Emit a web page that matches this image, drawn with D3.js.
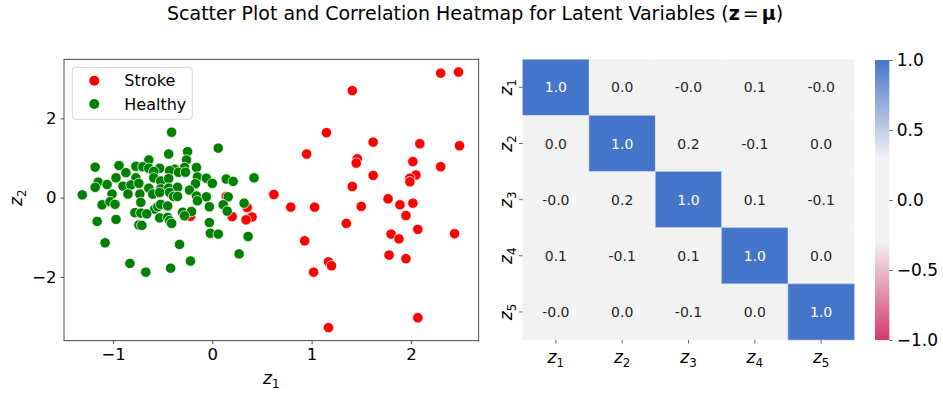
<!DOCTYPE html>
<html>
<head>
<meta charset="utf-8">
<script src="https://cdn.jsdelivr.net/npm/d3@7"></script>
<style>
  body { margin: 0; background: #fff; }
  svg { font-family: "DejaVu Sans", sans-serif; }
</style>
</head>
<body>
<div id="chart"></div>
<script>
// Latent points (z1, z2)
const strokeX = [2.30, 2.48, 1.41, 1.15, 1.62, 2.09, 2.49, 0.95, 1.46, 1.45, 2.02, 2.30, 1.62, 2.05, 1.99,
  1.99, 1.41, 0.62, 1.77, 1.89, 2.02, 0.79, 1.03, 1.50, 1.95, 0.40, 0.35, 1.35, 0.93, 1.80, 1.88, 2.07,
  2.44, 1.78, 1.95, 1.17, 1.20, 1.02, 2.07, 1.17, 0.20, 0.34, 0.14, -0.22];
const strokeY = [3.14, 3.17, 2.70, 1.64, 1.40, 1.36, 1.31, 1.10, 0.98, 0.87, 0.91, 0.78, 0.56, 0.57, 0.49,
  0.40, 0.28, 0.08, -0.03, -0.18, -0.14, -0.24, -0.24, -0.22, -0.45, -0.49, -0.25, -0.65, -1.09, -0.92, -1.04, -0.80,
  -0.91, -1.45, -1.54, -1.62, -1.72, -1.88, -3.03, -3.28, -0.48, -0.56, 0.03, -0.47];

const healthyX = [-0.41, 0.06, -0.25, -0.44, -0.64, -0.26, -1.18, -0.94, -0.77, -0.70, -0.64, -0.53, -0.38, -0.28,
  -0.16, -0.87, -0.59, -0.43, -0.34, -0.27, -0.97, -0.77, -0.59, -0.52, -0.44, -0.15, -0.06, 0.14, 0.21, 0.42,
  -1.15, -1.06, -1.18, -0.90, -0.82, -0.74, -0.64, -0.52, -0.44, -0.35, -0.17, 0.00, -0.23, -1.31, -1.01, -0.85,
  -0.73, -0.60, -0.53, -0.43, -0.39, -0.35, -0.16, -0.06, 0.16, -1.11, -1.03, -0.98, -0.72, -0.58, -0.55, -0.52,
  -0.45, -0.15, -0.03, 0.11, 0.32, -0.78, -0.72, -0.66, -0.30, -0.21, -1.16, -0.97, -0.53, -0.45, -0.43, -0.41,
  -0.74, -0.71, -0.28, -0.03, -0.02, 0.06, -0.33, -1.08, -0.22, -0.83, -0.42, -0.67, 0.27, 0.36, 0.15];
const healthyY = [1.65, 1.25, 1.16, 1.10, 0.95, 0.95, 0.77, 0.81, 0.79, 0.78, 0.74, 0.74, 0.72, 0.76,
  0.76, 0.63, 0.66, 0.68, 0.64, 0.64, 0.50, 0.50, 0.50, 0.42, 0.48, 0.52, 0.49, 0.47, 0.41, 0.50,
  0.39, 0.33, 0.26, 0.29, 0.32, 0.36, 0.24, 0.22, 0.24, 0.26, 0.35, 0.36, 0.19, 0.07, 0.09, 0.09,
  0.09, 0.09, 0.13, 0.13, 0.03, 0.03, 0.04, 0.02, 0.02, -0.18, -0.10, -0.17, -0.12, -0.29, -0.23, -0.17,
  -0.21, -0.08, -0.23, -0.18, -0.14, -0.38, -0.39, -0.41, -0.37, -0.35, -0.60, -0.55, -0.51, -0.50, -0.58, -0.65,
  -0.69, -0.70, -0.46, -0.63, -0.90, -0.92, -1.18, -1.14, -1.60, -1.66, -1.78, -1.88, -1.42, -0.98, -0.34];

const scatterXTicks = [-1, 0, 1, 2];
const scatterYTicks = [-2, 0, 2];

// Correlation matrix
const latentNames = ["1", "2", "3", "4", "5"];
const corrRow1 = [1.0, 0.01, -0.02, 0.08, -0.01];
const corrRow2 = [0.01, 1.0, 0.18, -0.09, 0.02];
const corrRow3 = [-0.02, 0.18, 1.0, 0.07, -0.06];
const corrRow4 = [0.08, -0.09, 0.07, 1.0, 0.01];
const corrRow5 = [-0.01, 0.02, -0.06, 0.01, 1.0];
const corrRows = [corrRow1, corrRow2, corrRow3, corrRow4, corrRow5];
const colorbarTicks = [1.0, 0.5, 0.0, -0.5, -1.0];

const W = 943, H = 393;
const svg = d3.select("#chart").append("svg")
    .attr("width", W).attr("height", H);

// Title
const title = svg.append("text")
    .attr("x", 167).attr("y", 19.5)
    .attr("font-size", 19).attr("fill", "#000");
title.append("tspan").text("Scatter Plot and Correlation Heatmap for Latent Variables (");
title.append("tspan").attr("font-weight", "bold").text("z");
title.append("tspan").attr("dx", 3).text("=");
title.append("tspan").attr("dx", 3).attr("font-weight", "bold").text("μ");
title.append("tspan").text(")");

function subLabel(sel, num, size) {
  sel.append("tspan").attr("font-style", "italic").text("z");
  sel.append("tspan").attr("font-size", size * 0.7).attr("dy", size * 0.25).text(num);
}

// ---------- Scatter ----------
const sx = d3.scaleLinear().domain([-1.494, 2.683]).range([64, 478.7]);
const sy = d3.scaleLinear().domain([-3.61, 3.49]).range([340.7, 59.3]);

const fmtMinus = d => (d < 0 ? "\u2212" : "") + Math.abs(d);

const xAxis = svg.append("g")
    .attr("transform", "translate(0,340.7)")
    .call(d3.axisBottom(sx).tickValues(scatterXTicks).tickFormat(fmtMinus).tickSize(3.5).tickPadding(4));
const yAxis = svg.append("g")
    .attr("transform", "translate(64,0)")
    .call(d3.axisLeft(sy).tickValues(scatterYTicks).tickFormat(fmtMinus).tickSize(3.5).tickPadding(4));
[xAxis, yAxis].forEach(a => {
  a.select(".domain").remove();
  a.selectAll("line").attr("stroke", "#222").attr("stroke-width", 0.8);
  a.selectAll("text").attr("font-size", 16.5).attr("font-family", "DejaVu Sans").attr("fill", "#000");
});

const strokePts = strokeX.map((x, i) => ({x: x, y: strokeY[i]}));
const healthyPts = healthyX.map((x, i) => ({x: x, y: healthyY[i]}));

svg.append("g").selectAll("circle")
    .data(strokePts).enter().append("circle")
    .attr("cx", d => sx(d.x)).attr("cy", d => sy(d.y)).attr("r", 5.2)
    .attr("fill", "#ff0000").attr("stroke", "#fff").attr("stroke-width", 0.75);
svg.append("g").selectAll("circle")
    .data(healthyPts).enter().append("circle")
    .attr("cx", d => sx(d.x)).attr("cy", d => sy(d.y)).attr("r", 5.2)
    .attr("fill", "#008000").attr("stroke", "#fff").attr("stroke-width", 0.75);

// frame
svg.append("rect")
    .attr("x", 64).attr("y", 59.3).attr("width", 414.7).attr("height", 281.4)
    .attr("fill", "none").attr("stroke", "#222").attr("stroke-width", 0.8);

// legend
const legend = svg.append("g");
legend.append("rect")
    .attr("x", 72.3).attr("y", 67.3).attr("width", 120).attr("height", 52).attr("rx", 3)
    .attr("fill", "#fff").attr("fill-opacity", 0.8).attr("stroke", "#ccc").attr("stroke-width", 0.8);
[["Stroke", "#ff0000", 80.7], ["Healthy", "#008000", 104]].forEach(([name, col, yy]) => {
  legend.append("circle").attr("cx", 94.3).attr("cy", yy).attr("r", 5).attr("fill", col);
  legend.append("text").attr("x", 124.3).attr("y", yy + 5.5).attr("font-size", 16).text(name);
});

// axis labels
const xl = svg.append("text").attr("x", 263).attr("y", 384).attr("font-size", 17);
subLabel(xl, "1", 17);
const yl = svg.append("text").attr("transform", "translate(22,206) rotate(-90)").attr("font-size", 17);
subLabel(yl, "2", 17);

// ---------- Heatmap ----------
const hx = d3.scaleBand().domain(latentNames).range([522.7, 854.3]);
const hy = d3.scaleBand().domain(latentNames).range([59.3, 340]);
const color = d3.scaleLinear()
    .domain([-1, -0.3, 0.3, 1])
    .range(["#d5386b", "#f2f2f2", "#f2f2f2", "#4575c9"]);

const cells = [];
corrRows.forEach((row, i) => row.forEach((v, j) => cells.push({r: latentNames[i], c: latentNames[j], v: v})));

const hm = svg.append("g");
hm.selectAll("rect").data(cells).enter().append("rect")
    .attr("x", d => hx(d.c)).attr("y", d => hy(d.r))
    .attr("width", hx.bandwidth()).attr("height", hy.bandwidth())
    .attr("fill", d => color(d.v))
    .attr("stroke", d => Math.abs(d.v) > 0.6 ? "#a9bfe6" : "none").attr("stroke-width", 0.6);
hm.selectAll("text").data(cells).enter().append("text")
    .attr("x", d => hx(d.c) + hx.bandwidth() / 2)
    .attr("y", d => hy(d.r) + hy.bandwidth() / 2 + 5)
    .attr("text-anchor", "middle").attr("font-size", 14)
    .attr("fill", d => Math.abs(d.v) > 0.6 ? "#fff" : "#262626")
    .text(d => d.v.toFixed(1));

// heatmap ticks
latentNames.forEach(n => {
  const cx = hx(n) + hx.bandwidth() / 2;
  svg.append("line").attr("x1", cx).attr("x2", cx).attr("y1", 340).attr("y2", 343.5)
      .attr("stroke", "#444").attr("stroke-width", 0.8);
  const t = svg.append("text").attr("x", cx).attr("y", 363).attr("text-anchor", "middle").attr("font-size", 17);
  subLabel(t, n, 17);
  const cy = hy(n) + hy.bandwidth() / 2;
  svg.append("line").attr("x1", 519).attr("x2", 522.7).attr("y1", cy).attr("y2", cy)
      .attr("stroke", "#444").attr("stroke-width", 0.8);
  const t2 = svg.append("text").attr("transform", `translate(512,${cy}) rotate(-90)`)
      .attr("text-anchor", "middle").attr("font-size", 17);
  subLabel(t2, n, 17);
});

// ---------- Colorbar ----------
const cb = d3.scaleLinear().domain([-1, 1]).range([340, 60]);
const grad = svg.append("defs").append("linearGradient")
    .attr("id", "cbgrad").attr("x1", 0).attr("y1", 1).attr("x2", 0).attr("y2", 0);
d3.range(0, 1.0001, 0.05).forEach(t => {
  grad.append("stop").attr("offset", t).attr("stop-color", color(-1 + 2 * t));
});
svg.append("rect")
    .attr("x", 875).attr("y", 60).attr("width", 14.3).attr("height", 280)
    .attr("fill", "url(#cbgrad)");
const cbAxis = svg.append("g")
    .attr("transform", "translate(889.3,0)")
    .call(d3.axisRight(cb).tickValues(colorbarTicks)
      .tickFormat(d => (d < 0 ? "\u2212" : "") + Math.abs(d).toFixed(1)).tickSize(3.5).tickPadding(4));
cbAxis.select(".domain").remove();
cbAxis.selectAll("line").attr("stroke", "#444").attr("stroke-width", 0.8);
cbAxis.selectAll("text").attr("font-size", 17).attr("font-family", "DejaVu Sans").attr("fill", "#000");
</script>
</body>
</html>
